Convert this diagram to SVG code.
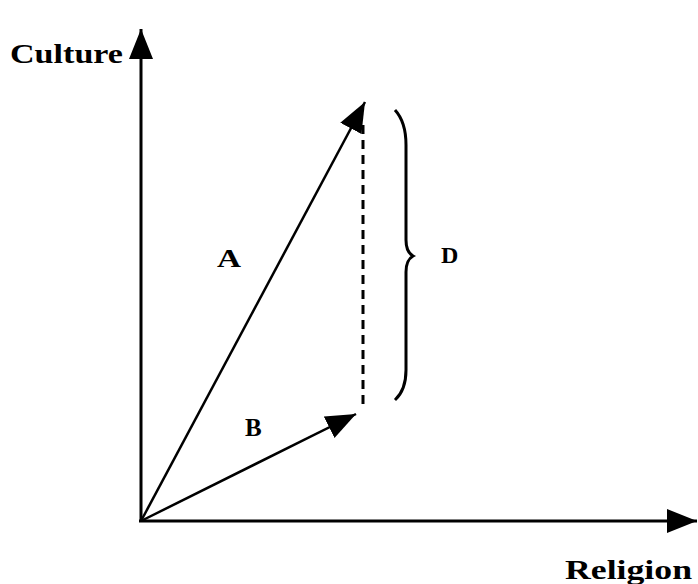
<svg xmlns="http://www.w3.org/2000/svg" width="698" height="584" viewBox="0 0 698 584">
<defs>
<style>
.ax{stroke:#000;stroke-width:3;fill:none}
.vec{stroke:#000;stroke-width:2.5;fill:none}
.lbl{font-family:"Liberation Serif","DejaVu Serif",serif;font-weight:bold;fill:#000}
</style>
<marker id="ah" markerUnits="userSpaceOnUse" markerWidth="32" markerHeight="26" refX="30" refY="12" orient="auto" viewBox="0 0 32 26">
<path d="M0,0 L30,12 L0,24 Z" fill="#000"/>
</marker>
</defs>
<rect width="698" height="584" fill="#fff"/>
<g id="connectors">
<line class="ax" x1="141" y1="521" x2="141" y2="29" marker-end="url(#ah)"/>
<line class="ax" x1="139" y1="521" x2="697" y2="521" marker-end="url(#ah)"/>
<line class="vec" x1="141" y1="521" x2="365" y2="102" marker-end="url(#ah)"/>
<line class="vec" x1="141" y1="521" x2="356" y2="414" marker-end="url(#ah)"/>
<line x1="363" y1="125" x2="363" y2="410" stroke="#000" stroke-width="3" stroke-dasharray="9,6"/>
<path d="M395,110 Q406,122 406,145 L406,240 Q406,252 413,256 Q406,260 406,272 L406,370 Q406,390 395,400" fill="none" stroke="#000" stroke-width="3"/>
</g>
<g id="culture"><text class="lbl" x="10" y="63" font-size="28" textLength="113" lengthAdjust="spacingAndGlyphs">Culture</text></g>
<g id="religion"><text class="lbl" x="565" y="579" font-size="28" textLength="127" lengthAdjust="spacingAndGlyphs">Religion</text></g>
<g id="A"><text class="lbl" x="217" y="267" font-size="25" textLength="24" lengthAdjust="spacingAndGlyphs">A</text></g>
<g id="B"><text class="lbl" x="245" y="436" font-size="25">B</text></g>
<g id="D"><text class="lbl" x="441" y="263" font-size="24" font-weight="normal">D</text></g>
</svg>
